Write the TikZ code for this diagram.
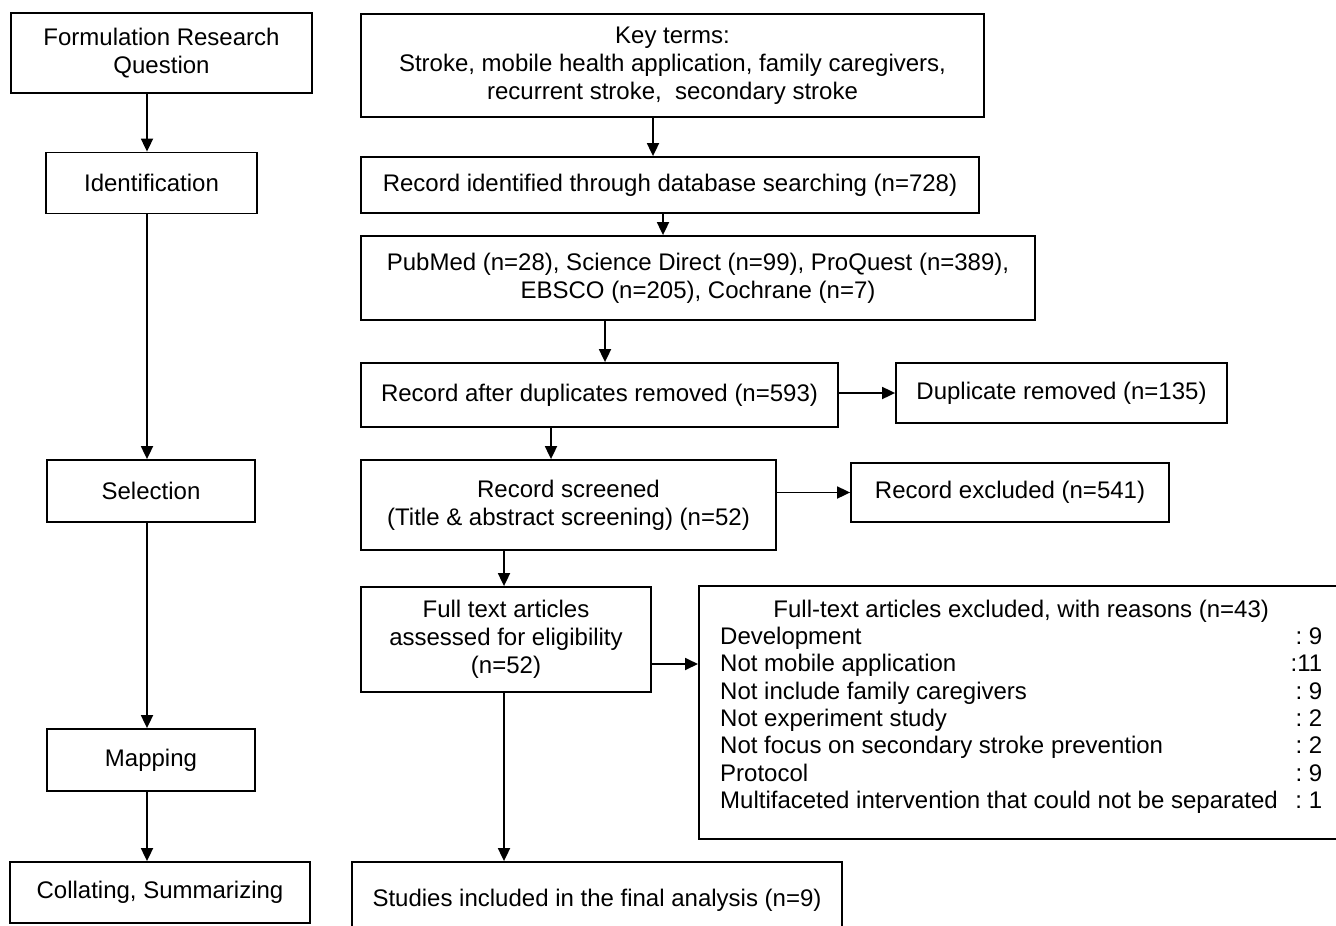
\documentclass[tikz,border=0pt]{standalone}
\usepackage{fontspec}
\setmainfont{Liberation Sans}
\usepackage{tikz}
\usetikzlibrary{arrows.meta}

\begin{document}
\begin{tikzpicture}[x=1pt,y=-1pt,
        box/.style={draw=black, line width=1.8pt, inner sep=0pt, align=center, font=\fontsize{24}{28}\selectfont},
        flow/.style={-{Triangle[length=13pt,width=12pt]}, line width=1.8pt}]
        \useasboundingbox (0,0) rectangle (1336,926);
        \fill[white] (0,0) rectangle (1336,926);

        % columns of the arrows
        \coordinate (colL) at (147,0);
        \coordinate (colA) at (653,0);
        \coordinate (colB) at (663,0);
        \coordinate (colC) at (605,0);
        \coordinate (colD) at (551,0);
        \coordinate (colE) at (504,0);
        \coordinate (rowF) at (0,664);

        % stages
        \node[box, minimum width=301, minimum height=80] (form) at (161.5,53) {Formulation Research\\Question};
        \node[box, minimum width=211, minimum height=61] (ident) at (151.5,183) {Identification};
        \node[box, minimum width=208, minimum height=62] (select) at (151,491) {Selection};
        \node[box, minimum width=208, minimum height=62] (mapping) at (151,760) {Mapping};
        \node[box, minimum width=300, minimum height=61] (collate) at (160,892.5) {Collating, Summarizing};

        % records
        \node[box, minimum width=623, minimum height=103] (keyterms) at (672.5,65.5) {Key terms:\\Stroke, mobile health application, family caregivers,\\recurrent stroke, \ secondary stroke};
        \node[box, minimum width=618, minimum height=56] (recid) at (670,185) {Record identified through database searching (n=728)};
        \node[box, minimum width=674, minimum height=84] (pubmed) at (698,278) {PubMed (n=28), Science Direct (n=99), ProQuest (n=389),\\EBSCO (n=205), Cochrane (n=7)};
        \node[box, minimum width=477, minimum height=64] (recafter) at (599.5,395) {Record after duplicates removed (n=593)};
        \node[box, minimum width=331, minimum height=60] (dupl) at (1061.5,393) {Duplicate removed (n=135)};
        \node[box, minimum width=415, minimum height=90] (screened) at (568.5,505) {Record screened\\(Title \& abstract screening) (n=52)};
        \node[box, minimum width=318, minimum height=59] (recexcl) at (1010,492.5) {Record excluded (n=541)};
        \node[box, minimum width=290, minimum height=105] (fulltext) at (506,639.5) {Full text articles\\assessed for eligibility\\(n=52)};
        \node[box, minimum width=652, minimum height=253, anchor=north west] (reasons) at (698,585) {};
        \node[anchor=north west, inner sep=0pt, font=\fontsize{24}{27.3}\selectfont] (reasonlist) at (720,598) {%
            \begin{tabular*}{602pt}{@{}l@{\extracolsep{\fill}}r@{}}
            \multicolumn{2}{@{}c@{}}{Full-text articles excluded, with reasons (n=43)}\\
            Development & :~9\\
            Not mobile application & :11\\
            Not include family caregivers & :~9\\
            Not experiment study & :~2\\
            Not focus on secondary stroke prevention & :~2\\
            Protocol & :~9\\
            Multifaceted intervention that could not be separated & :~1
            \end{tabular*}};
        \node[box, minimum width=490, minimum height=76] (studies) at (597,900) {Studies included in the final analysis (n=9)};

        % arrows
        \draw[flow] (form.south -| colL) -- (ident.north -| colL);
        \draw[flow] (ident.south -| colL) -- (select.north -| colL);
        \draw[flow] (select.south -| colL) -- (mapping.north -| colL);
        \draw[flow] (mapping.south -| colL) -- (collate.north -| colL);

        \draw[flow] (keyterms.south -| colA) -- (recid.north -| colA);
        \draw[flow] (recid.south -| colB) -- (pubmed.north -| colB);
        \draw[flow] (pubmed.south -| colC) -- (recafter.north -| colC);
        \draw[flow] (recafter.east |- dupl.west) -- (dupl.west);
        \draw[flow] (recafter.south -| colD) -- (screened.north -| colD);
        \draw[flow] (screened.east |- recexcl.west) -- (recexcl.west);
        \draw[flow] (screened.south -| colE) -- (fulltext.north -| colE);
        \draw[flow] (fulltext.east |- rowF) -- (reasons.west |- rowF);
        \draw[flow] (fulltext.south -| colE) -- (studies.north -| colE);

\end{tikzpicture}
\end{document}
